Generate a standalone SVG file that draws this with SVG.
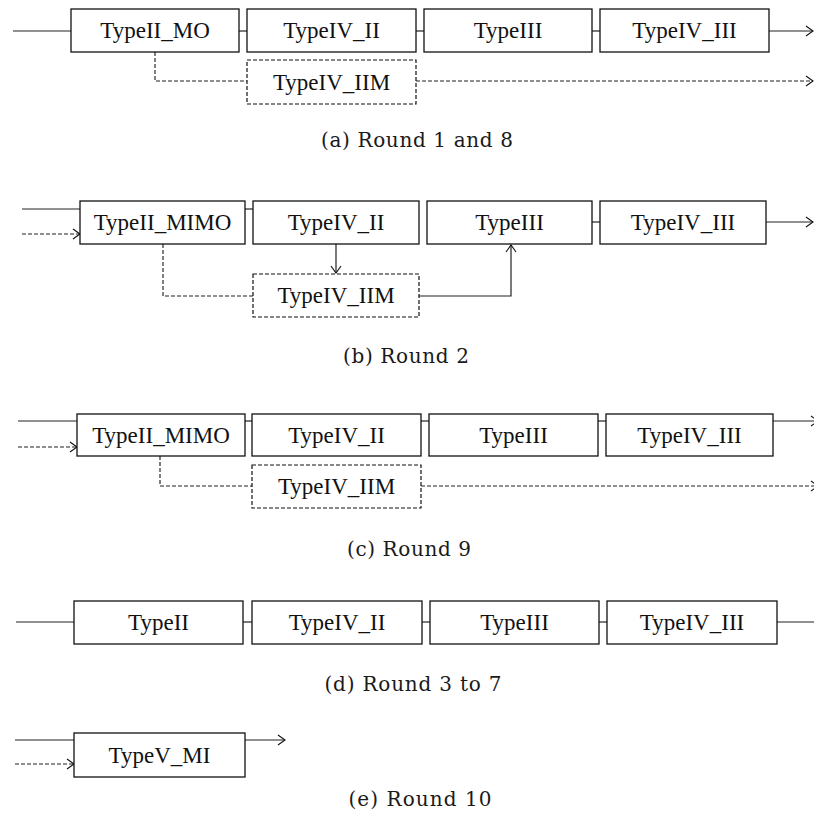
<svg xmlns="http://www.w3.org/2000/svg" width="814" height="826" viewBox="0 0 814 826">
<defs>
<marker id="arr" markerUnits="userSpaceOnUse" markerWidth="14" markerHeight="14" refX="12" refY="7" orient="auto" overflow="visible">
<path d="M5 2 L12 7 L5 12" fill="none" stroke="#111" stroke-width="1.1"/>
</marker>
</defs>
<style>
.box{fill:#fff;stroke:#111;stroke-width:1.3}
.dbox{fill:#fff;stroke:#111;stroke-width:1.2;stroke-dasharray:4 2}
.ln{fill:none;stroke:#222;stroke-width:1.2}
.dl{fill:none;stroke:#222;stroke-width:1.15;stroke-dasharray:4 2}
.lbl{font-family:"Liberation Serif","Times New Roman",serif;font-size:23px;fill:#111;text-anchor:middle}
.cap{font-family:"DejaVu Serif","Liberation Serif",serif;font-size:20px;fill:#1a1a1a;text-anchor:middle}
</style>
<rect width="814" height="826" fill="#fff"/>

<g id="connectors">
<!-- row a -->
<path class="ln" d="M13 31 H71"/>
<path class="ln" d="M239 31 H247"/>
<path class="ln" d="M416 31 H424"/>
<path class="ln" d="M592 31 H600"/>
<path class="ln" d="M769 31 H813" marker-end="url(#arr)"/>
<path class="dl" d="M155 52 V81 H247"/>
<path class="dl" d="M416 81 H813" marker-end="url(#arr)"/>
<!-- row b -->
<path class="ln" d="M22 209 H80"/>
<path class="dl" d="M22 234 H80" marker-end="url(#arr)"/>
<path class="ln" d="M245 209 H253"/>
<path class="ln" d="M592 222 H600"/>
<path class="ln" d="M766 222 H813" marker-end="url(#arr)"/>
<path class="ln" d="M336 244 V273" marker-end="url(#arr)"/>
<path class="dl" d="M163 244 V296 H253"/>
<path class="ln" d="M419 296 H511 V245" marker-end="url(#arr)"/>
<!-- row c -->
<path class="ln" d="M18 421 H77"/>
<path class="dl" d="M18 447 H77" marker-end="url(#arr)"/>
<path class="ln" d="M245 421 H252"/>
<path class="ln" d="M421 421 H429"/>
<path class="ln" d="M598 421 H606"/>
<path class="ln" d="M773 421 H818" marker-end="url(#arr)"/>
<path class="dl" d="M160 456 V486 H252"/>
<path class="dl" d="M421 486 H818" marker-end="url(#arr)"/>
<!-- row d -->
<path class="ln" d="M16 622 H74"/>
<path class="ln" d="M243 622 H252"/>
<path class="ln" d="M422 622 H430"/>
<path class="ln" d="M599 622 H607"/>
<path class="ln" d="M777 622 H814"/>
<!-- row e -->
<path class="ln" d="M15 740 H74"/>
<path class="dl" d="M15 764 H74" marker-end="url(#arr)"/>
<path class="ln" d="M245 740 H285" marker-end="url(#arr)"/>
</g>

<!-- row a -->
<g id="a1"><rect class="box" x="71" y="9" width="168" height="43"/><text class="lbl" x="155" y="38">TypeII_MO</text></g>
<g id="a2"><rect class="box" x="247" y="9" width="169" height="43"/><text class="lbl" x="331.5" y="38">TypeIV_II</text></g>
<g id="a3"><rect class="box" x="424" y="9" width="168" height="43"/><text class="lbl" x="508" y="38">TypeIII</text></g>
<g id="a4"><rect class="box" x="600" y="9" width="169" height="43"/><text class="lbl" x="684.5" y="38">TypeIV_III</text></g>
<g id="a5"><rect class="dbox" x="247" y="60" width="169" height="44"/><text class="lbl" x="331.5" y="90">TypeIV_IIM</text></g>
<text class="cap" x="417" y="147" textLength="192">(a) Round 1 and 8</text>

<!-- row b -->
<g id="b1"><rect class="box" x="80" y="201" width="165" height="43"/><text class="lbl" x="162.5" y="230">TypeII_MIMO</text></g>
<g id="b2"><rect class="box" x="253" y="201" width="166" height="43"/><text class="lbl" x="336" y="230">TypeIV_II</text></g>
<g id="b3"><rect class="box" x="427" y="201" width="165" height="43"/><text class="lbl" x="509.5" y="230">TypeIII</text></g>
<g id="b4"><rect class="box" x="600" y="201" width="166" height="43"/><text class="lbl" x="683" y="230">TypeIV_III</text></g>
<g id="b5"><rect class="dbox" x="253" y="274" width="166" height="43"/><text class="lbl" x="336" y="303">TypeIV_IIM</text></g>
<text class="cap" x="406" y="363" textLength="126">(b) Round 2</text>

<!-- row c -->
<g id="c1"><rect class="box" x="77" y="414" width="168" height="42"/><text class="lbl" x="161" y="443">TypeII_MIMO</text></g>
<g id="c2"><rect class="box" x="252" y="414" width="169" height="42"/><text class="lbl" x="336.5" y="443">TypeIV_II</text></g>
<g id="c3"><rect class="box" x="429" y="414" width="169" height="42"/><text class="lbl" x="513.5" y="443">TypeIII</text></g>
<g id="c4"><rect class="box" x="606" y="414" width="167" height="42"/><text class="lbl" x="689.5" y="443">TypeIV_III</text></g>
<g id="c5"><rect class="dbox" x="252" y="465" width="169" height="43"/><text class="lbl" x="336.5" y="494">TypeIV_IIM</text></g>
<text class="cap" x="409" y="556" textLength="124">(c) Round 9</text>

<!-- row d -->
<g id="d1"><rect class="box" x="74" y="601" width="169" height="43"/><text class="lbl" x="158.5" y="630">TypeII</text></g>
<g id="d2"><rect class="box" x="252" y="601" width="170" height="43"/><text class="lbl" x="337" y="630">TypeIV_II</text></g>
<g id="d3"><rect class="box" x="430" y="601" width="169" height="43"/><text class="lbl" x="514.5" y="630">TypeIII</text></g>
<g id="d4"><rect class="box" x="607" y="601" width="170" height="43"/><text class="lbl" x="692" y="630">TypeIV_III</text></g>
<text class="cap" x="413" y="691" textLength="177">(d) Round 3 to 7</text>

<!-- row e -->
<g id="e1"><rect class="box" x="74" y="733" width="171" height="44"/><text class="lbl" x="159.5" y="763">TypeV_MI</text></g>
<text class="cap" x="420" y="806" textLength="143">(e) Round 10</text>
</svg>
